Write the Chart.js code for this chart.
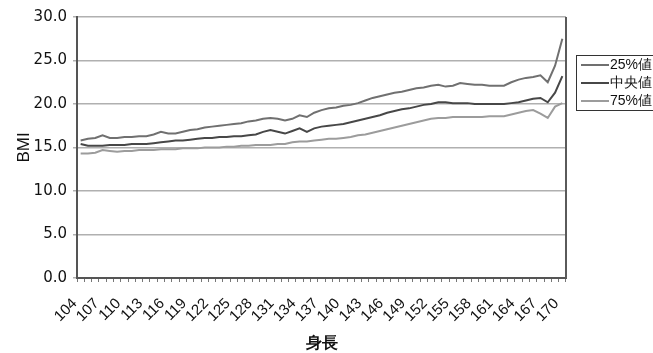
<!DOCTYPE html>
<html>
<head>
<meta charset="utf-8">
<script src="https://cdn.jsdelivr.net/npm/chart.js@4/dist/chart.umd.min.js"></script>
<style>
html,body{margin:0;padding:0;background:#fff;}
#wrap{width:653px;height:353px;position:relative;}
</style>
</head>
<body>
<div id="wrap"><canvas id="c" width="653" height="353"></canvas></div>
<script>
// Categories: height (cm) 104..170
const heights = [104,105,106,107,108,109,110,111,112,113,114,115,116,117,118,119,120,121,122,123,124,125,126,127,128,129,130,131,132,133,134,135,136,137,138,139,140,141,142,143,144,145,146,147,148,149,150,151,152,153,154,155,156,157,158,159,160,161,162,163,164,165,166,167,168,169,170];

const seriesNames = ["25%値", "中央値", "75%値"];

const upperLine = [15.8,16.0,16.1,16.4,16.1,16.1,16.2,16.2,16.3,16.3,16.5,16.8,16.6,16.6,16.8,17.0,17.1,17.3,17.4,17.5,17.6,17.7,17.8,18.0,18.1,18.3,18.4,18.3,18.1,18.3,18.7,18.5,19.0,19.3,19.5,19.6,19.8,19.9,20.1,20.4,20.7,20.9,21.1,21.3,21.4,21.6,21.8,21.9,22.1,22.2,22.0,22.1,22.4,22.3,22.2,22.2,22.1,22.1,22.1,22.5,22.8,23.0,23.1,23.3,22.5,24.4,27.5];

const medianLine = [15.4,15.2,15.2,15.2,15.3,15.3,15.3,15.4,15.4,15.4,15.5,15.6,15.7,15.8,15.8,15.9,16.0,16.1,16.1,16.2,16.2,16.3,16.3,16.4,16.5,16.8,17.0,16.8,16.6,16.9,17.2,16.8,17.2,17.4,17.5,17.6,17.7,17.9,18.1,18.3,18.5,18.7,19.0,19.2,19.4,19.5,19.7,19.9,20.0,20.2,20.2,20.1,20.1,20.1,20.0,20.0,20.0,20.0,20.0,20.1,20.2,20.4,20.6,20.7,20.2,21.3,23.2];

const lowerLine = [14.3,14.3,14.4,14.7,14.6,14.5,14.6,14.6,14.7,14.7,14.7,14.8,14.8,14.8,14.9,14.9,14.9,15.0,15.0,15.0,15.1,15.1,15.2,15.2,15.3,15.3,15.3,15.4,15.4,15.6,15.7,15.7,15.8,15.9,16.0,16.0,16.1,16.2,16.4,16.5,16.7,16.9,17.1,17.3,17.5,17.7,17.9,18.1,18.3,18.4,18.4,18.5,18.5,18.5,18.5,18.5,18.6,18.6,18.6,18.8,19.0,19.2,19.3,18.9,18.4,19.7,20.1];

const yTicks = [0,5,10,15,20,25,30];

const FONT = "'Liberation Sans', Arial, sans-serif";
const TICKFONT = "'DejaVu Sans', sans-serif";

const seriesColors = ["#707070", "#474747", "#9c9c9c"];
const seriesData = [upperLine, medianLine, lowerLine];

const frameAndLegend = {
  id: 'frameAndLegend',
  afterDraw(chart) {
    const ctx = chart.ctx;
    const a = chart.chartArea;
    ctx.save();
    ctx.strokeStyle = '#5a5a5a';
    ctx.lineWidth = 2;
    ctx.beginPath();
    ctx.moveTo(a.right, a.top);
    ctx.lineTo(a.right, a.bottom);
    ctx.stroke();
    // legend
    const lx = 576, ly = 55, lw = 90, lh = 55;
    ctx.fillStyle = '#fff';
    ctx.fillRect(lx, ly, lw, lh);
    ctx.strokeStyle = '#333';
    ctx.lineWidth = 1;
    ctx.strokeRect(lx + 0.5, ly + 0.5, lw, lh);
    ctx.font = '14px ' + FONT;
    ctx.textBaseline = 'middle';
    chart.data.datasets.forEach((ds, i) => {
      const y = ly + 10 + i * 18;
      ctx.strokeStyle = ds.borderColor;
      ctx.lineWidth = 2;
      ctx.beginPath();
      ctx.moveTo(lx + 5, y);
      ctx.lineTo(lx + 33, y);
      ctx.stroke();
      ctx.fillStyle = '#111';
      ctx.fillText(ds.label, lx + 34, y);
    });
    ctx.restore();
  }
};

new Chart(document.getElementById('c'), {
  type: 'line',
  data: {
    labels: heights.map(String),
    datasets: seriesNames.map((n, i) => ({
      label: n,
      data: seriesData[i],
      borderColor: seriesColors[i],
      borderWidth: 2,
      pointRadius: 0,
      tension: 0,
      fill: false
    }))
  },
  options: {
    responsive: false,
    animation: false,
    devicePixelRatio: 1,
    layout: { padding: { left: 0, right: 87, top: 17, bottom: 0 } },
    plugins: { legend: { display: false }, tooltip: { enabled: false } },
    scales: {
      x: {
        offset: true,
        grid: { display: true, drawOnChartArea: false, offset: true, tickLength: 4, color: '#777', lineWidth: 1 },
        border: { display: true, color: '#555', width: 2 },
        ticks: {
          autoSkip: false,
          minRotation: 45,
          maxRotation: 45,
          padding: 7,
          color: '#111',
          font: { family: FONT, size: 15 },
          callback: function(v, i) { return (i % 3 === 0) ? this.getLabelForValue(v) + '  ' : ''; }
        },
        title: { display: true, text: '身長', color: '#111', font: { family: FONT, size: 16, weight: 'bold' }, padding: { top: 0, bottom: 0 } },
        afterFit(scale) { scale.height = 75; }
      },
      y: {
        min: 0,
        max: 30,
        afterBuildTicks(scale) { scale.ticks = yTicks.map(v => ({ value: v })); },
        grid: { color: '#b0b0b0', lineWidth: 1.5, tickLength: 4 },
        border: { display: true, color: '#555', width: 2 },
        ticks: {
          padding: 6,
          color: '#111',
          font: { family: TICKFONT, size: 15 },
          callback: v => Number(v).toFixed(1)
        },
        title: { display: true, text: 'BMI', color: '#111', font: { family: FONT, size: 17 }, padding: { top: 14, bottom: 0 } },
        afterFit(scale) { scale.width = 77; }
      }
    }
  },
  plugins: [frameAndLegend]
});
</script>
</body>
</html>
